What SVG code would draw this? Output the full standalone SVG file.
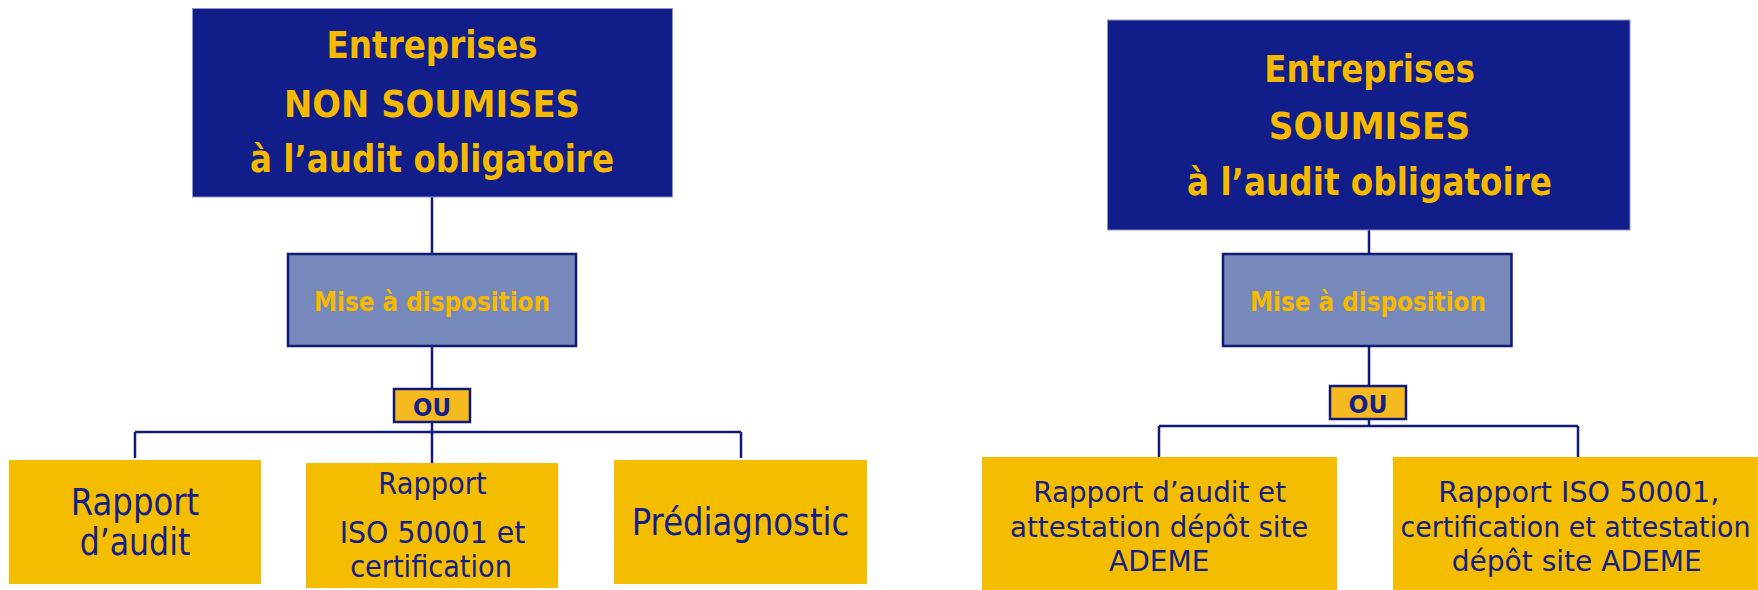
<svg xmlns="http://www.w3.org/2000/svg" width="1758" height="590" viewBox="0 0 1758 590">
<style>
.top{fill:#111D88;stroke:#8E94C8;stroke-width:1}
.mise{fill:#7789BB;stroke:#101A78;stroke-width:2.5}
.ou{fill:#F7B920;stroke:#101A78;stroke-width:2.5}
.leaf{fill:#F5BD00}
.title{font-family:"DejaVu Sans","Liberation Sans",sans-serif;font-weight:bold;font-size:36.5px;fill:#F5BA00;text-anchor:middle}
.misetxt{font-family:"DejaVu Sans","Liberation Sans",sans-serif;font-weight:bold;font-size:26.5px;fill:#F5BA00;text-anchor:middle}
.outxt{font-family:"DejaVu Sans","Liberation Sans",sans-serif;font-weight:bold;font-size:25.5px;fill:#14208A;text-anchor:middle}
.body{font-family:"DejaVu Sans","Liberation Sans",sans-serif;fill:#14208A;text-anchor:middle}
.conn{fill:none;stroke:#101A78;stroke-width:2.5}
</style>
<rect width="1758" height="590" fill="#FFFFFF"/>
<g id="connectors">
<path class="conn" d="M432 197V254M432 346V389M432 422V432M135 432H741M135 432V458M432 432V463M741 432V458"/>
<path class="conn" d="M1369 230V254M1369 346V386M1369 419V426M1159 426H1578M1159 426V457M1578 426V457"/>
</g>
<g id="top-left">
<rect class="top" x="192.5" y="8.5" width="480" height="188.5"/>
<text class="title" x="432" y="57.5" textLength="211" lengthAdjust="spacingAndGlyphs">Entreprises</text>
<text class="title" x="432" y="116.5" textLength="296" lengthAdjust="spacingAndGlyphs">NON SOUMISES</text>
<text class="title" x="432" y="172" textLength="364" lengthAdjust="spacingAndGlyphs">à l’audit obligatoire</text>
</g>
<g id="mise-left">
<rect class="mise" x="288" y="254" width="288" height="92"/>
<text class="misetxt" x="432" y="311" textLength="236" lengthAdjust="spacingAndGlyphs">Mise à disposition</text>
</g>
<g id="ou-left">
<rect class="ou" x="394" y="389" width="76" height="33"/>
<text class="outxt" x="432" y="416" textLength="38" lengthAdjust="spacingAndGlyphs">OU</text>
</g>
<g id="rapport-audit">
<rect class="leaf" x="9" y="460" width="252" height="124"/>
<text class="body" x="135" y="515" font-size="37" textLength="128.6" lengthAdjust="spacingAndGlyphs">Rapport</text>
<text class="body" x="135" y="555" font-size="37" textLength="110.7" lengthAdjust="spacingAndGlyphs">d’audit</text>
</g>
<g id="rapport-iso">
<rect class="leaf" x="306" y="463" width="252" height="125"/>
<text class="body" x="432.5" y="494" font-size="31" textLength="108.3" lengthAdjust="spacingAndGlyphs">Rapport</text>
<text class="body" x="432.5" y="543" font-size="31" textLength="185.7" lengthAdjust="spacingAndGlyphs">ISO 50001 et</text>
<text class="body" x="431" y="576.7" font-size="31" textLength="161.7" lengthAdjust="spacingAndGlyphs">certification</text>
</g>
<g id="prediagnostic">
<rect class="leaf" x="614" y="460" width="253" height="124"/>
<text class="body" x="740.5" y="535" font-size="37" textLength="217.6" lengthAdjust="spacingAndGlyphs">Prédiagnostic</text>
</g>
<g id="top-right">
<rect class="top" x="1107.5" y="20" width="522.5" height="210"/>
<text class="title" x="1369.5" y="82" textLength="210.7" lengthAdjust="spacingAndGlyphs">Entreprises</text>
<text class="title" x="1369.5" y="138.6" textLength="201.5" lengthAdjust="spacingAndGlyphs">SOUMISES</text>
<text class="title" x="1369.5" y="195" textLength="365" lengthAdjust="spacingAndGlyphs">à l’audit obligatoire</text>
</g>
<g id="mise-right">
<rect class="mise" x="1223" y="254" width="288.5" height="92"/>
<text class="misetxt" x="1368" y="311" textLength="236" lengthAdjust="spacingAndGlyphs">Mise à disposition</text>
</g>
<g id="ou-right">
<rect class="ou" x="1330" y="386" width="76" height="33"/>
<text class="outxt" x="1368" y="413.3" textLength="39" lengthAdjust="spacingAndGlyphs">OU</text>
</g>
<g id="rapport-audit-ademe">
<rect class="leaf" x="982" y="457" width="355" height="133"/>
<text class="body" x="1159.7" y="501.7" font-size="29" textLength="252.7" lengthAdjust="spacingAndGlyphs">Rapport d’audit et</text>
<text class="body" x="1159.2" y="536.7" font-size="29" textLength="298.3" lengthAdjust="spacingAndGlyphs">attestation dépôt site</text>
<text class="body" x="1159.2" y="570.7" font-size="29" textLength="100.3" lengthAdjust="spacingAndGlyphs">ADEME</text>
</g>
<g id="rapport-iso-ademe">
<rect class="leaf" x="1393" y="457" width="365" height="133"/>
<text class="body" x="1578.8" y="501.7" font-size="29" textLength="281" lengthAdjust="spacingAndGlyphs">Rapport ISO 50001,</text>
<text class="body" x="1575.5" y="536.7" font-size="29" textLength="350" lengthAdjust="spacingAndGlyphs">certification et attestation</text>
<text class="body" x="1576.7" y="570.7" font-size="29" textLength="250" lengthAdjust="spacingAndGlyphs">dépôt site ADEME</text>
</g>
</svg>
